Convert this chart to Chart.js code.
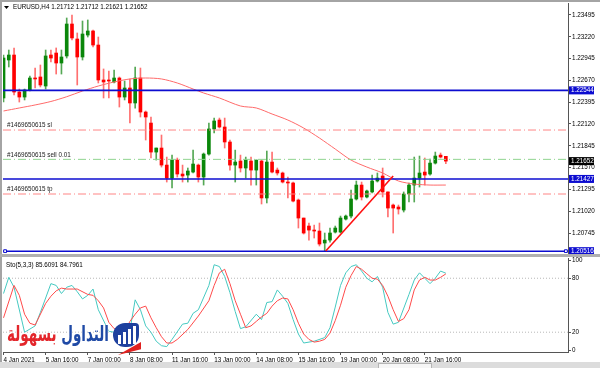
<!DOCTYPE html>
<html>
<head>
<meta charset="utf-8">
<script src="https://cdn.jsdelivr.net/npm/chart.js@4.4.1/dist/chart.umd.min.js"></script>
<style>
body { margin:0; background:#fff; }
#wrap { position:relative; width:600px; height:368px; overflow:hidden; background:#fff; }
canvas { position:absolute; left:0; }
.frame { position:absolute; background:#a4a4a4; }
#logoText { position:absolute; left:0; top:332px; width:109px; height:20px; line-height:20px; text-align:right; white-space:nowrap;
  font:bold 13.5px "DejaVu Sans", sans-serif; transform:scaleY(1.6); transform-origin:50% 100%;
  text-shadow:0 0 2px #fff, 0 0 2px #fff; }
</style>
</head>
<body>
<div id="wrap">
  <canvas id="main" width="600" height="255" style="top:0"></canvas>
  <canvas id="sto" width="600" height="112" style="top:256px"></canvas>
  <div class="frame" style="left:0;top:0;width:600px;height:2px"></div>
  <div class="frame" style="left:0;top:0;width:2px;height:362px"></div>
  <div class="frame" style="left:0;top:254px;width:600px;height:3px;background:#b0b0b0"></div>
  <div style="position:absolute;left:0;top:362px;width:600px;height:6px;background:#dcdcdc"></div>
  <div style="position:absolute;left:378px;top:363px;width:52px;height:5px;background:#f6f6f6;border:1px solid #b4b4b4"></div>

  <div id="logoText" dir="rtl"><span style="color:#1f4aa6">التداول</span> <span style="color:#e3262b">بسهولة</span></div>
  <div style="position:absolute;left:113px;top:323px;width:26px;height:24px;background:#1e409e;border-radius:13px 4px 13px 13px"></div>
  <div style="position:absolute;left:118px;top:335px;width:3px;height:9px;background:#fff"></div>
  <div style="position:absolute;left:123px;top:332px;width:3px;height:12px;background:#fff"></div>
  <div style="position:absolute;left:128px;top:329px;width:3px;height:15px;background:#fff"></div>
  <div style="position:absolute;left:133px;top:326px;width:3px;height:18px;background:#fff"></div>
  <div style="position:absolute;left:118px;top:342px;width:23px;height:13px;background:#e0201f;clip-path:polygon(0 100%,100% 0,100% 55%)"></div>
</div>

<script>
const FONT = '"Liberation Sans", Arial, sans-serif';

// EURUSD H4 candles, index 0 = 4 Jan 08:00
const candleOpen = [1.22448,1.22927,1.22990,1.22523,1.22460,1.22549,1.22700,1.22713,1.22599,1.22990,
  1.23015,1.22889,1.22978,1.23381,1.23192,1.22965,1.23242,1.23293,1.23116,1.22675,
  1.22675,1.22650,1.22700,1.22460,1.22574,1.22385,1.22700,1.22271,1.22132,1.21766,
  1.21817,1.21602,1.21438,1.21665,1.21489,1.21476,1.21514,1.21602,1.21451,1.21741,
  1.22057,1.22170,1.22082,1.21893,1.21602,1.21653,1.21565,1.21653,1.21539,1.21653,
  1.21187,1.21640,1.21539,1.21502,1.21388,1.21376,1.21161,1.20934,1.20833,1.20782,
  1.20770,1.20619,1.20656,1.20757,1.20757,1.20921,1.20959,1.21174,1.21350,1.21199,
  1.21263,1.21401,1.21464,1.21263,1.21098,1.21073,1.21035,1.21237,1.21350,1.21438,
  1.21514,1.21489,1.21627,1.21728,1.21712];
const candleHigh = [1.22990,1.23053,1.23079,1.22561,1.22561,1.22725,1.22826,1.22864,1.23053,1.23053,
  1.23079,1.23053,1.23457,1.23495,1.23268,1.23419,1.23432,1.23306,1.23217,1.22814,
  1.22788,1.22801,1.22713,1.22662,1.22688,1.22839,1.22826,1.22284,1.22208,1.21817,
  1.21981,1.21703,1.21728,1.21691,1.21602,1.21565,1.21791,1.21615,1.21754,1.22132,
  1.22195,1.22195,1.22195,1.21918,1.21791,1.21728,1.21703,1.21703,1.21665,1.21665,
  1.21779,1.21766,1.21565,1.21514,1.21451,1.21388,1.21174,1.20934,1.20871,1.20845,
  1.20871,1.20745,1.20808,1.20833,1.20959,1.20972,1.21287,1.21401,1.21388,1.21287,
  1.21476,1.21502,1.21565,1.21263,1.21111,1.21098,1.21263,1.21376,1.21703,1.21716,
  1.21691,1.21678,1.21766,1.21754,1.21712];
const candleLow = [1.22397,1.22839,1.22486,1.22397,1.22423,1.22536,1.22574,1.22587,1.22561,1.22902,
  1.22750,1.22750,1.22952,1.23179,1.22612,1.22927,1.23217,1.23091,1.22637,1.22448,
  1.22448,1.22637,1.22334,1.22423,1.22132,1.22320,1.22208,1.21918,1.21691,1.21665,
  1.21577,1.21388,1.21313,1.21451,1.21388,1.21388,1.21502,1.21388,1.21350,1.21728,
  1.22006,1.22069,1.21817,1.21539,1.21388,1.21514,1.21438,1.21350,1.21350,1.21111,
  1.21124,1.21502,1.21476,1.21376,1.21187,1.21136,1.20808,1.20732,1.20656,1.20682,
  1.20581,1.20518,1.20631,1.20745,1.20745,1.20909,1.20934,1.21161,1.21161,1.21187,
  1.21250,1.21388,1.21199,1.20947,1.20745,1.20984,1.21010,1.21136,1.21136,1.21325,
  1.21350,1.21476,1.21615,1.21691,1.21621];
const candleClose = [1.22952,1.22990,1.22523,1.22460,1.22549,1.22700,1.22688,1.22612,1.22978,1.22952,
  1.22889,1.22965,1.23381,1.23205,1.22965,1.23255,1.23293,1.23116,1.22675,1.22650,
  1.22662,1.22700,1.22460,1.22574,1.22385,1.22700,1.22271,1.22208,1.21766,1.21817,
  1.21602,1.21438,1.21665,1.21489,1.21464,1.21527,1.21615,1.21451,1.21741,1.22057,
  1.22158,1.22082,1.21893,1.21602,1.21640,1.21565,1.21665,1.21539,1.21665,1.21187,
  1.21640,1.21514,1.21502,1.21388,1.21376,1.21148,1.20934,1.20745,1.20782,1.20770,
  1.20606,1.20656,1.20745,1.20808,1.20934,1.20959,1.21174,1.21350,1.21199,1.21275,
  1.21401,1.21438,1.21263,1.21060,1.21060,1.21048,1.21237,1.21350,1.21438,1.21502,
  1.21476,1.21627,1.21716,1.21703,1.21652];

// moving average, read at [candle index, price]
const maPoints = [[0,1.22284],[3,1.22322],[6,1.22360],[9,1.22404],[12,1.22464],[15,1.22536],[18,1.22599],
  [21,1.22650],[24,1.22688],[27,1.22700],[30,1.22688],[33,1.22637],[36,1.22561],[38,1.22511],[41,1.22448],
  [45,1.22347],[48,1.22322],[51,1.22246],[54,1.22170],[57,1.22069],[60,1.21943],[63,1.21804],[66,1.21665],
  [69,1.21577],[72,1.21502],[75,1.21401],[78,1.21363],[81,1.21350],[84,1.21350]];

// drawn objects
const blueLevels = [1.22544, 1.21427, 1.20516];
const orderLevels = [1.22044, 1.21674, 1.21237];
const orderNames = ['#1469650615 sl', '#1469650615 sell 0.01', '#1469650615 tp'];
const orderColors = ['#ff8585', '#8fd48f', '#ff8585'];
const trendLine = [[61.2, 1.20518], [74.0, 1.21464]];
const currentPrice = 1.21652;

const priceTicks = [1.23495,1.23220,1.22945,1.22670,1.22395,1.22120,1.21845,1.21570,1.21295,1.21020,1.20745];
const dateIdx = [0,8,16,24,32,40,48,56,64,72,80];
const dateLabels = ['4 Jan 2021','5 Jan 16:00','7 Jan 00:00','8 Jan 08:00','11 Jan 16:00','13 Jan 00:00',
  '14 Jan 08:00','15 Jan 16:00','19 Jan 00:00','20 Jan 08:00','21 Jan 16:00'];

// stochastic (5,3,3): [candle index, value]
const stoMain = [[0,63],[1,81],[2,70],[4,20],[6,27],[7,42],[9,74],[10,72],[11,63],[12,70],[13,72],[14,65],
  [15,57],[16,61],[17,68],[18,45],[20,21],[21,20],[24,22],[25,56],[26,45],[27,27],[28,20],[29,10],[30,5],
  [31,4],[32,12],[34,29],[35,30],[36,41],[37,45],[39,72],[40,95],[41,93],[42,82],[43,64],[44,43],[45,24],
  [46,26],[48,40],[49,34],[50,53],[51,54],[52,67],[53,60],[54,52],[55,34],[56,18],[57,8],[59,10],[61,14],
  [62,25],[63,48],[64,72],[65,86],[66,93],[67,95],[68,88],[69,80],[70,76],[71,82],[72,70],[73,42],[74,29],
  [75,31],[77,62],[78,78],[79,86],[80,80],[81,74],[82,80],[83,88],[84,85.6]];
const stoSignal = [[0,36],[2,72],[3,61],[4,40],[5,30],[6,28],[8,52],[9,60],[10,66],[11,69],[12,68],[14,68],
  [16,62],[17,61],[18,55],[19,47],[20,31],[21,24],[23,21],[24,32],[25,40],[26,47],[27,49],[28,36],[29,25],
  [30,15],[31,8],[32,8],[33,12],[35,23],[37,38],[39,55],[40,72],[41,86],[42,90],[43,74],[44,55],[45,40],
  [46,25],[47,27],[48,32],[49,37],[50,41],[51,49],[52,55],[53,58],[54,57],[55,45],[56,30],[57,18],[58,12],
  [59,9],[60,10],[61,12],[62,19],[63,33],[64,50],[65,70],[66,83],[67,93],[68,90],[69,85],[70,80],[71,79],
  [72,72],[73,60],[74,45],[75,32],[76,35],[77,45],[78,67],[79,78],[80,81],[81,78],[82,78],[83,81],[84,84.8]];
const stoLevels = [80, 20];
const stoTicks = [100, 80, 20, 0];

const xMin = -0.1, xMax = 107.2;
const tickFont = { family: FONT, size: 6.3 };

function flatLine(v) { return [{ x: xMin, y: v }, { x: xMax, y: v }]; }
function noPad(s) { s.paddingTop = 0; s.paddingBottom = 0; s.paddingLeft = 0; s.paddingRight = 0; }

const bull = candleOpen.map((o, i) => candleClose[i] > o);

const datasets = [
  { type: 'bar', order: 10, grouped: false, barThickness: 1,
    data: candleOpen.map((o, i) => ({ x: i, y: [candleLow[i], candleHigh[i]] })),
    backgroundColor: bull.map(b => b ? '#55a855' : '#ff7070') },
  { type: 'bar', order: 9, grouped: false, barThickness: 3, minBarLength: 1,
    data: candleOpen.map((o, i) => ({ x: i, y: [o, candleClose[i]] })),
    backgroundColor: bull.map(b => b ? '#0a870a' : '#ff0000') },
  { type: 'line', order: 5, data: maPoints.map(p => ({ x: p[0], y: p[1] })),
    borderColor: '#ff6a6a', borderWidth: 1, pointRadius: 0, tension: 0.3 }
];
orderLevels.forEach((v, k) => datasets.push({ type: 'line', order: 4, data: flatLine(v),
  borderColor: orderColors[k], borderWidth: 1, borderDash: [8, 3, 1, 3], pointRadius: 0 }));
blueLevels.forEach(v => datasets.push({ type: 'line', order: 3, data: flatLine(v),
  borderColor: '#0c0cd0', borderWidth: 1.6, pointRadius: 0 }));
datasets.push({ type: 'line', order: 2, data: trendLine.map(p => ({ x: p[0], y: p[1] })),
  borderColor: '#ff1010', borderWidth: 1.6, pointRadius: 0 });
datasets.push({ type: 'line', order: 1, showLine: false,
  data: [{ x: 0.3, y: blueLevels[2] }, { x: 106.8, y: blueLevels[2] }],
  pointStyle: 'rect', pointRadius: 2, pointBorderWidth: 1, pointBorderColor: '#0c0cd0', pointBackgroundColor: '#fff' });

const mainText = {
  id: 'mainText',
  afterDraw(chart) {
    const ctx = chart.ctx, ys = chart.scales.y;
    ctx.save();
    ctx.font = '6.3px ' + FONT;
    ctx.textBaseline = 'middle';
    ctx.fillStyle = '#000';
    ctx.beginPath(); ctx.moveTo(4, 6); ctx.lineTo(9, 6); ctx.lineTo(6.5, 9); ctx.fill();
    ctx.fillText('EURUSD,H4 1.21712 1.21712 1.21621 1.21652', 13, 7.5);
    ctx.fillStyle = '#222';
    orderLevels.forEach((v, k) => ctx.fillText(orderNames[k], 7, ys.getPixelForValue(v) - 4.5));
    const boxes = [[blueLevels[0], '#0c0cd0'], [currentPrice, '#000'], [blueLevels[1], '#0c0cd0'], [blueLevels[2], '#0c0cd0']];
    boxes.forEach(([v, col]) => {
      const py = ys.getPixelForValue(v);
      ctx.fillStyle = col;
      ctx.fillRect(569, py - 4, 25, 8);
      ctx.fillStyle = '#fff';
      ctx.fillText(v.toFixed(5), 571, py);
    });
    ctx.restore();
  }
};

new Chart(document.getElementById('main'), {
  type: 'bar',
  data: { datasets: datasets },
  options: {
    responsive: false, animation: false,
    layout: { autoPadding: false, padding: { left: 3, top: 3, right: 0, bottom: 2 } },
    plugins: { legend: { display: false }, tooltip: { enabled: false } },
    scales: {
      x: { type: 'linear', display: false, offset: false, min: xMin, max: xMax },
      y: { position: 'right', min: 1.20493, max: 1.23646, beginAtZero: false,
        afterFit: s => { s.width = 32; noPad(s); },
        afterBuildTicks: s => { s.ticks = priceTicks.map(v => ({ value: v })); },
        grid: { drawOnChartArea: false, tickLength: 3, color: '#555' },
        border: { color: '#555' },
        ticks: { padding: 1, color: '#000', font: tickFont, callback: v => v.toFixed(5) } }
    }
  },
  plugins: [mainText]
});

const stoText = {
  id: 'stoText',
  afterDraw(chart) {
    const ctx = chart.ctx;
    ctx.save();
    ctx.font = '6.3px ' + FONT;
    ctx.textBaseline = 'middle';
    ctx.fillStyle = '#000';
    ctx.fillText('Sto(5,3,3) 85.6091 84.7961', 6, 9);
    ctx.restore();
  }
};

const stoSets = [
  { data: stoMain.map(p => ({ x: p[0], y: p[1] })), borderColor: '#45c9c1', borderWidth: 1, pointRadius: 0, order: 1 },
  { data: stoSignal.map(p => ({ x: p[0], y: p[1] })), borderColor: '#ff4a4a', borderWidth: 1, pointRadius: 0, order: 0 }
];
stoLevels.forEach(v => stoSets.push({ data: flatLine(v), borderColor: '#b8b8b8', borderWidth: 1,
  borderDash: [1, 2], pointRadius: 0, order: 5 }));

new Chart(document.getElementById('sto'), {
  type: 'line',
  data: { datasets: stoSets },
  options: {
    responsive: false, animation: false,
    layout: { autoPadding: false, padding: { left: 3, top: 2, right: 0, bottom: 0 } },
    plugins: { legend: { display: false }, tooltip: { enabled: false } },
    scales: {
      x: { type: 'linear', min: xMin, max: xMax,
        afterFit: s => { s.height = 16; noPad(s); },
        afterBuildTicks: s => { s.ticks = dateIdx.map(v => ({ value: v })); },
        grid: { drawOnChartArea: false, tickLength: 3, color: '#555' },
        border: { color: '#555' },
        ticks: { align: 'start', maxRotation: 0, autoSkip: false, padding: 1, color: '#000', font: tickFont,
          callback: (v, i) => dateLabels[i] } },
      y: { position: 'right', min: -2, max: 102.5,
        afterFit: s => { s.width = 32; noPad(s); },
        afterBuildTicks: s => { s.ticks = stoTicks.map(v => ({ value: v })); },
        grid: { drawOnChartArea: false, tickLength: 3, color: '#555' },
        border: { color: '#555' },
        ticks: { padding: 1, color: '#000', font: tickFont, callback: v => String(v) } }
    }
  },
  plugins: [stoText]
});
</script>
</body>
</html>
